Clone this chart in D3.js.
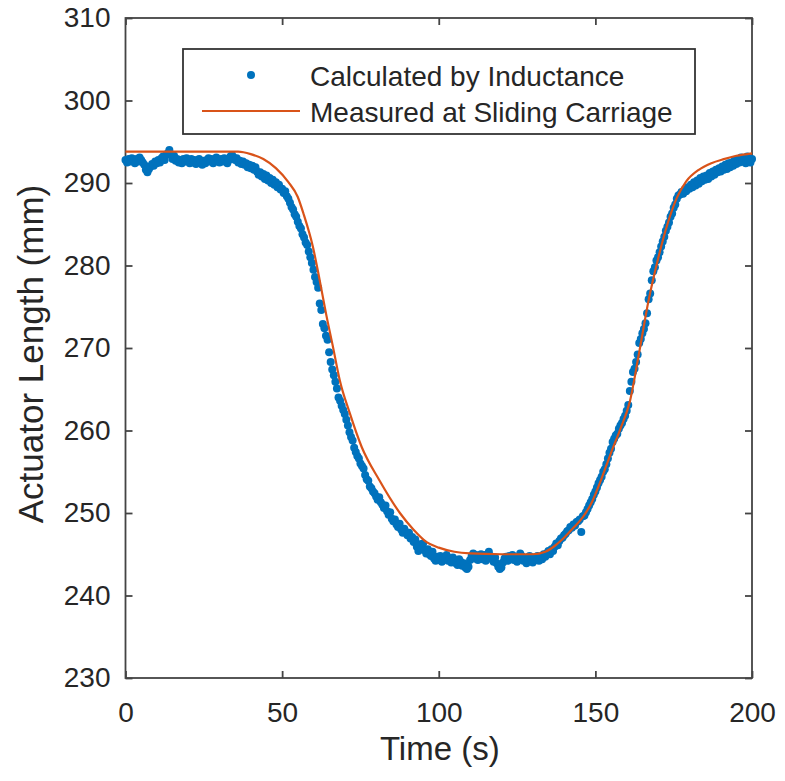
<!DOCTYPE html>
<html>
<head>
<meta charset="utf-8">
<script src="https://cdn.jsdelivr.net/npm/d3@7"></script>
<style>
    html, body { margin: 0; padding: 0; background: #ffffff; }
    svg text { font-family: "Liberation Sans", Arial, Helvetica, sans-serif; fill: #262626; }
</style>
</head>
<body>
<div id="chart"></div>
<script>
"use strict";

// x ticks / y ticks
const xTicks = [0, 50, 100, 150, 200];
const yTicks = [230, 240, 250, 260, 270, 280, 290, 300, 310];

// measured at sliding carriage : [time (s), length (mm)]
const measuredTime = [0, 10, 20, 30, 36, 40, 44, 48, 52, 55, 56.8, 59.8, 62.0, 64.0, 66.2, 68.4, 71.6, 75.4, 81.0, 87.6,
    91.9, 96, 100, 105, 110, 120, 130, 134, 137, 140, 143, 146, 149, 152, 155, 158, 161, 164, 167, 170,
    173, 176, 179, 183, 187, 191, 195, 200];
const measuredLength = [293.8, 293.8, 293.8, 293.8, 293.8, 293.5, 292.9, 291.8, 290.1, 288.3, 286.3, 282.3, 278.2, 274.2, 270.2, 266.1, 262.1, 258.0, 254.0, 250.0,
    248.0, 246.5, 245.8, 245.3, 245.1, 245.0, 245.0, 245.3, 246.0, 247.0, 248.2, 249.5, 251.4, 254.2, 257.3, 260.2, 263.5, 269.5, 275.8, 280.8,
    285.0, 288.2, 290.2, 291.6, 292.4, 292.9, 293.3, 293.6];

// calculated by inductance, one sample every 0.5 s starting at 0 s
const sampleStep = 0.5;
const inductanceLength = [
    292.8, 292.5, 292.9, 292.6, 293.0, 292.7, 292.4, 292.9, 292.6, 293.1, 292.8, 292.5, 292.2, 291.6, 291.3, 291.7, 292.0, 292.3, 292.1, 292.6,
    292.4, 292.8, 292.5, 293.0, 293.2, 292.8, 293.4, 293.6, 294.0, 293.5, 292.9, 293.3, 292.7, 292.9, 292.5, 292.8, 292.4, 292.9, 292.6, 293.0,
    292.7, 292.4, 292.9, 292.5, 292.8, 292.3, 292.6, 292.9, 292.5, 292.2, 292.7, 292.4, 292.8, 293.0, 292.6, 292.9, 292.4, 292.7, 293.1, 292.8,
    292.5, 292.9, 292.6, 293.0, 292.7, 292.4, 292.8, 293.2, 293.4, 293.1, 292.8, 293.0, 292.5, 292.7, 292.3, 292.6, 292.2, 292.4, 291.9, 292.2,
    291.8, 292.1, 291.6, 291.9, 291.4, 291.0, 291.3, 290.8, 291.1, 290.5, 290.9, 290.3, 290.6, 290.0, 290.4, 289.8, 290.1, 289.5, 289.8, 289.2,
    289.3, 288.8, 289.0, 288.4, 288.1, 287.6, 287.1, 286.8, 286.2, 285.9, 285.3, 284.8, 284.5, 283.8, 283.4, 282.8, 282.5, 281.7, 281.0, 280.3,
    279.5, 278.6, 278.0, 277.3, 275.4, 274.6, 272.9, 272.4, 271.5, 271.0, 269.5, 268.3, 267.4, 266.7, 265.9, 265.1, 264.0, 263.6, 263.0, 262.5,
    262.0, 261.3, 260.6, 259.8, 259.2, 258.8, 257.9, 257.4, 256.9, 256.6, 256.0, 255.7, 255.4, 254.6, 254.1, 253.9, 253.2, 253.0, 252.6, 252.4,
    252.0, 251.6, 251.9, 251.3, 251.0, 250.6, 250.9, 250.2, 249.8, 250.1, 249.3, 249.0, 249.2, 248.6, 248.3, 248.7, 248.0, 247.6, 248.1, 247.7,
    247.3, 247.6, 246.9, 247.1, 246.5, 246.8, 245.9, 245.4, 246.2, 245.7, 246.3, 245.5, 245.1, 245.6, 245.0, 244.8, 245.3, 244.5, 244.2, 244.7,
    244.3, 244.8, 244.1, 244.6, 244.4, 244.9, 244.2, 244.5, 244.0, 244.6, 244.3, 243.9, 243.7, 244.4, 244.1, 243.6, 243.9, 243.4, 243.2, 243.5,
    244.3, 244.8, 245.1, 244.5, 244.9, 244.3, 244.7, 245.0, 244.4, 244.9, 244.2, 244.6, 245.3, 244.8, 244.4, 244.1, 244.6, 243.9, 243.5, 243.2,
    243.4, 244.0, 244.5, 244.7, 244.2, 244.8, 244.4, 244.9, 244.3, 244.7, 244.1, 244.6, 245.1, 244.8, 244.2, 244.5, 243.9, 244.3, 244.8, 244.4,
    244.0, 244.6, 244.3, 244.8, 244.2, 244.7, 244.4, 245.0, 244.7, 245.1, 245.4, 245.0, 245.6, 245.4, 245.9, 246.3, 246.1, 246.6, 246.9, 247.0,
    247.3, 247.5, 247.8, 247.9, 248.3, 248.2, 248.6, 248.5, 248.9, 249.0, 249.2, 247.7, 249.6, 249.7, 250.1, 250.5, 250.9, 251.3, 251.7, 252.2,
    252.6, 253.1, 253.6, 254.0, 254.4, 255.0, 255.3, 255.9, 256.6, 257.3, 257.8, 258.6, 259.0, 259.4, 259.6, 260.2, 260.6, 260.9, 261.4, 261.8,
    262.4, 263.1, 264.8, 265.9, 267.1, 267.5, 268.3, 269.2, 270.6, 271.1, 271.8, 272.3, 273.0, 274.2, 275.9, 276.6, 278.2, 279.3, 279.8, 280.6,
    281.0, 281.6, 282.3, 282.9, 283.5, 284.2, 284.7, 285.2, 285.9, 286.3, 287.0, 287.4, 288.1, 288.5, 288.6, 288.9, 288.7, 289.2, 289.0, 289.5,
    289.3, 289.8, 289.5, 290.1, 289.7, 290.3, 289.9, 290.6, 290.2, 290.8, 290.4, 290.9, 290.5, 291.2, 290.8, 291.4, 291.0, 291.6, 291.3, 291.8,
    291.4, 292.0, 291.6, 292.2, 291.7, 292.4, 291.9, 292.5, 292.1, 292.8, 292.3, 292.9, 292.5, 293.1, 292.6, 293.0, 292.4, 293.2, 292.8, 292.5,
    292.9
];

const seriesNames = ["Calculated by Inductance", "Measured at Sliding Carriage"];

const blue = "#0072BD";
const orange = "#D95319";
const axisColor = "#444444";

const svgWidth = 785, svgHeight = 781;
const margin = {top: 18, right: 33, bottom: 103, left: 125.5},
    width = svgWidth - margin.left - margin.right,
    height = svgHeight - margin.top - margin.bottom;

const svg = d3.select("#chart")
    .append("svg")
    .attr("width", svgWidth)
    .attr("height", svgHeight)
    .append("g")
    .attr("transform", "translate(" + margin.left + "," + margin.top + ")");

const x = d3.scaleLinear()
    .domain([0, 200])
    .range([0, width]);

const y = d3.scaleLinear()
    .domain([230, 310])
    .range([height, 0]);

// axes, ticks pointing inwards on all four sides
function styleAxis(g) {
    g.select(".domain").remove();
    g.selectAll(".tick line").attr("stroke", axisColor).attr("stroke-width", 1.8);
    g.selectAll(".tick text")
        .attr("fill", "#262626")
        .style("font-size", "28px");
}

svg.append("g")
    .attr("transform", "translate(0," + height + ")")
    .call(d3.axisBottom(x).tickValues(xTicks).tickSizeInner(-7).tickSizeOuter(0).tickPadding(24))
    .call(styleAxis);

svg.append("g")
    .call(d3.axisLeft(y).tickValues(yTicks).tickSizeInner(-7).tickSizeOuter(0).tickPadding(15))
    .call(styleAxis);

svg.append("g")
    .call(d3.axisTop(x).tickValues(xTicks).tickSizeInner(-7).tickSizeOuter(0).tickFormat(""))
    .call(styleAxis);

svg.append("g")
    .attr("transform", "translate(" + width + ",0)")
    .call(d3.axisRight(y).tickValues(yTicks).tickSizeInner(-7).tickSizeOuter(0).tickFormat(""))
    .call(styleAxis);

// box
svg.append("rect")
    .attr("x", 0)
    .attr("y", 0)
    .attr("width", width)
    .attr("height", height)
    .attr("fill", "none")
    .attr("stroke", axisColor)
    .attr("stroke-width", 1.8);

// axis titles
svg.append("text")
    .attr("transform", "translate(" + (width / 2 + 1) + "," + (height + 82) + ")")
    .style("text-anchor", "middle")
    .style("font-size", "33px")
    .text("Time (s)");

svg.append("text")
    .attr("transform", "translate(" + (43 - margin.left) + "," + (height / 2 + 6) + ") rotate(-90)")
    .style("text-anchor", "middle")
    .style("font-size", "35px")
    .text("Actuator Length (mm)");

// inductance points
const inductanceData = inductanceLength.map(function(v, i) { return [i * sampleStep, v]; });

svg.append("g")
    .selectAll("circle")
    .data(inductanceData)
    .enter()
    .append("circle")
    .attr("cx", function(d) { return x(d[0]); })
    .attr("cy", function(d) { return y(d[1]); })
    .attr("r", 4)
    .attr("fill", blue);

// measured line
const measuredData = measuredTime.map(function(t, i) { return [t, measuredLength[i]]; });

svg.append("path")
    .datum(measuredData)
    .attr("fill", "none")
    .attr("stroke", orange)
    .attr("stroke-width", 2.2)
    .attr("stroke-linejoin", "round")
    .attr("d", d3.line()
        .curve(d3.curveMonotoneX)
        .x(function(d) { return x(d[0]); })
        .y(function(d) { return y(d[1]); })
    );

// legend
const legend = svg.append("g")
    .attr("class", "legend")
    .attr("transform", "translate(" + (183 - margin.left) + "," + (49 - margin.top) + ")");

legend.append("rect")
    .attr("width", 512)
    .attr("height", 85)
    .attr("fill", "#ffffff")
    .attr("stroke", "#333333")
    .attr("stroke-width", 1.8);

legend.append("circle")
    .attr("cx", 68)
    .attr("cy", 26)
    .attr("r", 4)
    .attr("fill", blue);

legend.append("line")
    .attr("x1", 19)
    .attr("x2", 117)
    .attr("y1", 62)
    .attr("y2", 62)
    .attr("stroke", orange)
    .attr("stroke-width", 2.2);

legend.selectAll("text.entry")
    .data(seriesNames)
    .enter()
    .append("text")
    .attr("class", "entry")
    .attr("x", 127)
    .attr("y", function(d, i) { return 37 + i * 36; })
    .style("font-size", "28px")
    .text(function(d) { return d; });
</script>
</body>
</html>
